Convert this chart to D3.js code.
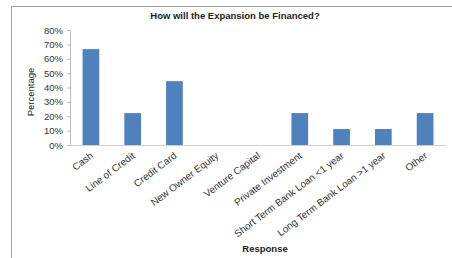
<!DOCTYPE html>
<html>
<head>
<meta charset="utf-8">
<script src="https://cdn.jsdelivr.net/npm/d3@7"></script>
<style>
  body { margin: 0; background: #fff; }
  svg { display: block; font-family: "Liberation Sans", Arial, sans-serif; }
</style>
</head>
<body>
<svg id="chart" width="452" height="258"></svg>
<script>
// survey responses, share of respondents
var categories = ["Cash", "Line of Credit", "Credit Card", "New Owner Equity", "Venture Capital",
  "Private Investment", "Short Term Bank Loan <1 year", "Long Term Bank Loan >1 year", "Other"];
var values = [0.667, 0.222, 0.444, 0, 0, 0.222, 0.111, 0.111, 0.222];
var yTicks = [0, 0.1, 0.2, 0.3, 0.4, 0.5, 0.6, 0.7, 0.8];

var svg = d3.select("#chart");
var plotLeft = 70, plotRight = 446, plotTop = 30, plotBottom = 145;

// outer frame (only top and left edges visible in the crop)
svg.append("line").attr("x1", 11.5).attr("x2", 452).attr("y1", 6.5).attr("y2", 6.5)
  .attr("stroke", "#a0a0a0").attr("stroke-width", 1);
svg.append("line").attr("x1", 11.5).attr("x2", 11.5).attr("y1", 6.5).attr("y2", 258)
  .attr("stroke", "#a0a0a0").attr("stroke-width", 1);

var x = d3.scaleBand().domain(categories).range([plotLeft, plotRight]).paddingInner(0.6).paddingOuter(0.3);
var y = d3.scaleLinear().domain([0, 0.8]).range([plotBottom, plotTop]);

// y axis
var ya = svg.append("g").attr("transform", "translate(" + plotLeft + ",0)")
  .call(d3.axisLeft(y).tickValues(yTicks).tickFormat(d3.format(".0%")).tickSize(3).tickPadding(4));
ya.select(".domain").attr("stroke", "#bdbdbd");
ya.selectAll(".tick line").attr("stroke", "#bdbdbd");
ya.selectAll("text").attr("font-size", 9.5).attr("fill", "#333")
  .attr("font-family", "Liberation Sans, Arial, sans-serif");

// bars
svg.selectAll("rect.bar").data(values).enter().append("rect")
  .attr("class", "bar")
  .attr("x", function(d, i) { return x(categories[i]); })
  .attr("width", x.bandwidth())
  .attr("y", function(d) { return y(d); })
  .attr("height", function(d) { return plotBottom - y(d); })
  .attr("fill", "#4f81bd");

// x axis
var xa = svg.append("g").attr("transform", "translate(0," + plotBottom + ")")
  .call(d3.axisBottom(x).tickSize(0).tickPadding(0));
xa.select(".domain").attr("stroke", "#d0d0d0").attr("d", "M" + plotLeft + ",0.5H" + plotRight);
xa.selectAll("text")
  .attr("font-size", 9.9).attr("fill", "#333")
  .attr("font-family", "Liberation Sans, Arial, sans-serif")
  .attr("text-anchor", "end")
  .attr("dy", null).attr("y", 0)
  .attr("transform", "translate(3,12) rotate(-37)");

// title and axis labels
svg.append("text").attr("x", 235).attr("y", 19).attr("text-anchor", "middle")
  .attr("font-size", 9.5).attr("font-weight", "bold").attr("fill", "#222")
  .text("How will the Expansion be Financed?");
svg.append("text").attr("transform", "translate(34,92) rotate(-90)").attr("text-anchor", "middle")
  .attr("font-size", 9.5).attr("fill", "#222").text("Percentage");
svg.append("text").attr("x", 265).attr("y", 252).attr("text-anchor", "middle")
  .attr("font-size", 9.5).attr("font-weight", "bold").attr("fill", "#222").text("Response");
</script>
</body>
</html>
